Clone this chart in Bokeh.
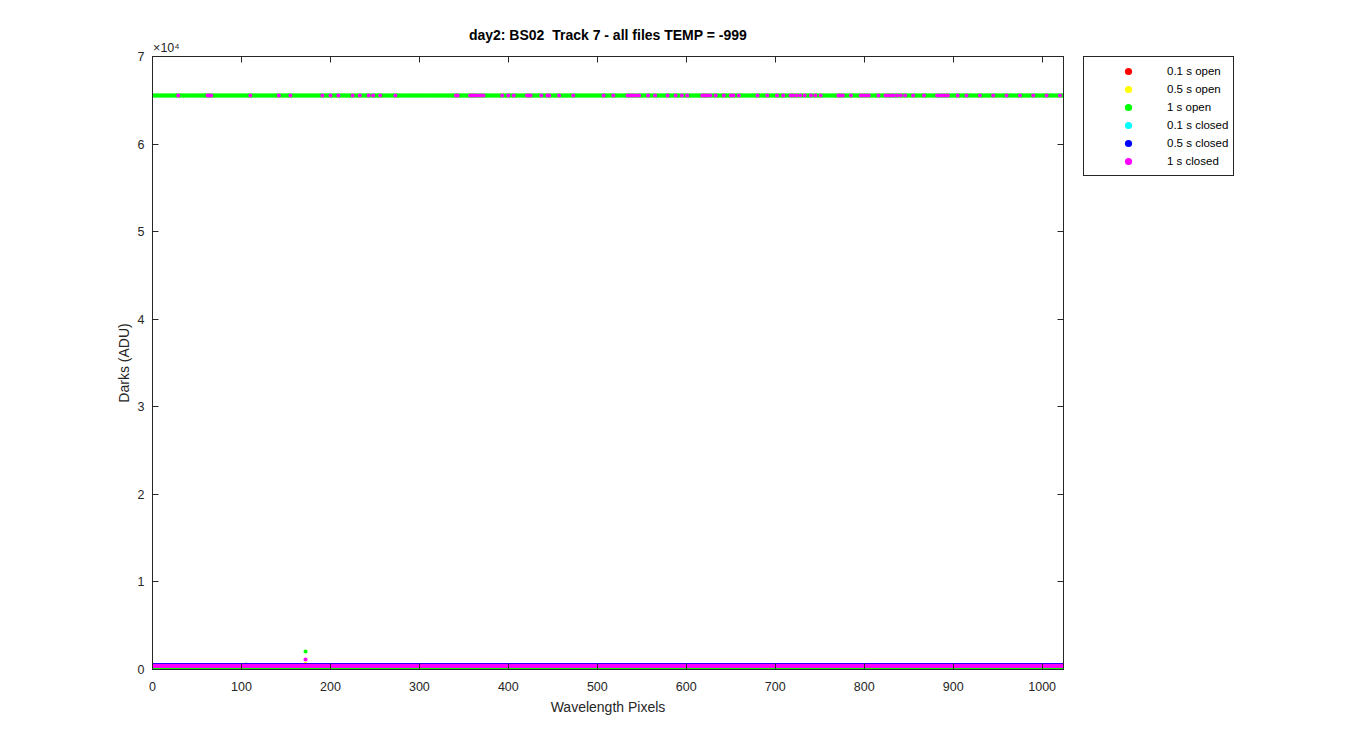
import numpy as np
from bokeh.plotting import figure
from bokeh.layouts import row
from bokeh.models import Range1d, LinearAxis, Legend, LegendItem
from bokeh.embed import file_html
from bokeh.resources import INLINE

# ---------------- data ----------------
pixels = np.arange(1, 1025)

series_names = ["0.1 s open", "0.5 s open", "1 s open",
                "0.1 s closed", "0.5 s closed", "1 s closed"]
series_colors = ["#FF0000", "#FFFF00", "#00FF00",
                 "#00FFFF", "#0000FF", "#FF00FF"]

# dark level (ADU) of each file in each series, flat across the detector
open_01_levels = [310, 340]
open_05_levels = [330]
open_1_levels = [120]
closed_01_levels = [450]
closed_05_levels = [510]
closed_1_levels = [390, 430]

saturation = 65535
# 1 s open: one file saturated at every pixel
open_1_saturated_pixels = list(range(1, 1025))
# 1 s closed: saturated file visible at these pixels
closed_1_saturated_pixels = [
    29, 62, 64, 66, 110, 142, 155, 191, 200, 209, 225, 233, 243, 248, 256, 273,
    341, 343, 357, 359, 361, 363, 366, 369, 372, 393, 400, 406, 421, 423, 425,
    437, 444, 446, 457, 473, 507, 518, 534, 537, 539, 541, 544, 547, 557, 565,
    579, 588, 595, 601, 618, 620, 622, 624, 627, 633, 642, 650, 653, 659, 680,
    691, 702, 709, 717, 720, 724, 728, 733, 740, 745, 751, 771, 773, 776, 785,
    796, 799, 802, 805, 816, 824, 827, 830, 833, 837, 841, 846, 855, 867, 882,
    885, 888, 891, 894, 905, 915, 930, 945, 960, 975, 990, 1005, 1020]

# isolated hot pixels
outlier_series = ["1 s open", "1 s closed", "0.5 s open", "1 s open"]
outlier_pixels = [172, 172, 172, 105]
outlier_values = [2050, 1130, 650, 580]

levels_by_series = [open_01_levels, open_05_levels, open_1_levels,
                    closed_01_levels, closed_05_levels, closed_1_levels]
saturated_by_series = [[], [], open_1_saturated_pixels, [], [], closed_1_saturated_pixels]

AX = "#262626"
FONT = "Liberation Sans"

p = figure(frame_width=911, frame_height=613,
           x_range=Range1d(0, 1024), y_range=Range1d(0, 70000),
           output_backend="svg", toolbar_location=None,
           min_border_left=152, min_border_top=56,
           min_border_right=10, min_border_bottom=10,
           title="day2: BS02\u00a0\u00a0Track 7 - all files TEMP = -999")
p.background_fill_color = "white"
p.border_fill_color = "white"
p.outline_line_color = AX
p.grid.visible = False

p.title.align = "center"
p.title.text_font = FONT
p.title.text_font_style = "bold"
p.title.text_font_size = "14px"
p.title.text_color = "black"
p.title.standoff = -10

for name, color, levels, sat in zip(series_names, series_colors,
                                    levels_by_series, saturated_by_series):
    xs = [pixels for _ in levels]
    ys = [np.full(len(pixels), lv) for lv in levels]
    if sat:
        xs.append(np.array(sat))
        ys.append(np.full(len(sat), saturation))
    ox = [px for s, px in zip(outlier_series, outlier_pixels) if s == name]
    oy = [v for s, v in zip(outlier_series, outlier_values) if s == name]
    if ox:
        xs.append(np.array(ox))
        ys.append(np.array(oy))
    x = np.concatenate(xs)
    y = np.concatenate(ys)
    p.scatter(x, y, size=4, marker="circle", fill_color=color, line_color=None)

xticks = list(range(0, 1001, 100))
yticks = list(range(0, 70001, 10000))

def style_axis(ax):
    ax.axis_line_color = AX
    ax.major_tick_line_color = AX
    ax.major_tick_in = 6
    ax.major_tick_out = 0
    ax.minor_tick_line_color = None
    ax.major_label_text_color = AX
    ax.major_label_text_font = FONT
    ax.major_label_text_font_size = "12.5px"
    ax.axis_label_text_color = AX
    ax.axis_label_text_font = FONT
    ax.axis_label_text_font_size = "14px"
    ax.axis_label_text_font_style = "normal"

p.xaxis.ticker = xticks
p.yaxis.ticker = yticks
p.yaxis.major_label_overrides = {t: str(t // 10000) for t in yticks}
p.xaxis.axis_label = "Wavelength Pixels"
p.yaxis.axis_label = "Darks (ADU)"
for ax in p.xaxis + p.yaxis:
    style_axis(ax)
p.xaxis.major_label_standoff = 12
p.yaxis.major_label_standoff = 8
p.xaxis.axis_label_standoff = 5
p.yaxis.axis_label_standoff = 3

top = LinearAxis(ticker=xticks)
right = LinearAxis(ticker=yticks)
for ax in (top, right):
    style_axis(ax)
    ax.major_label_text_font_size = "0px"
    ax.major_label_standoff = 0

# exponent of the y axis, written at the start of the top axis
top.axis_label = "\u00a0" * 8 + "\u00d710\u2074"
top.axis_label_align = "start"
top.axis_label_text_font_size = "12.5px"
top.axis_label_standoff = 2
p.add_layout(top, "above")
p.add_layout(right, "right")

# legend, in a panel of its own to the right of the axes
lf = figure(width=190, height=300, x_range=Range1d(0, 1), y_range=Range1d(0, 1),
            output_backend="svg", toolbar_location=None,
            min_border_left=10, min_border_top=54,
            min_border_right=0, min_border_bottom=0)
lf.axis.visible = False
lf.grid.visible = False
lf.outline_line_color = None
lf.background_fill_color = "white"
lf.border_fill_color = "white"

items = []
for name, color in zip(series_names, series_colors):
    # legend key only: its one point lies outside this panel's range
    r = lf.scatter(x=[-1], y=[-1], size=4, marker="circle", fill_color=color,
                   line_color=None)
    items.append(LegendItem(label=name, renderers=[r]))

legend = Legend(items=items, location="top_left")
legend.margin = 0
legend.padding = 5
legend.spacing = 0
legend.glyph_width = 78
legend.glyph_height = 18
legend.label_height = 18
legend.label_standoff = 0
legend.label_text_font = FONT
legend.label_text_font_size = "11.5px"
legend.label_text_color = "black"
legend.border_line_color = AX
legend.border_line_alpha = 1
legend.border_line_width = 1.5
legend.background_fill_color = "white"
legend.background_fill_alpha = 1
lf.add_layout(legend, "center")

layout = row(p, lf)
open("out.html", "w").write(file_html(layout, INLINE))
